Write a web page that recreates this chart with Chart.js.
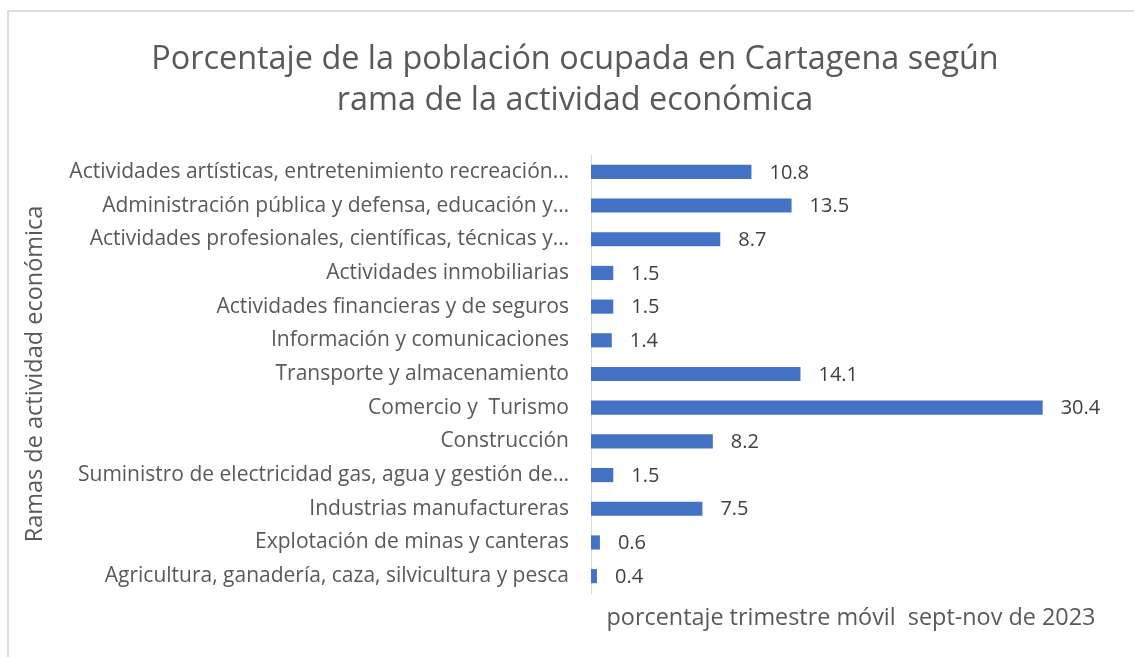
<!DOCTYPE html>
<html>
<head>
<meta charset="utf-8">
<script src="https://cdn.jsdelivr.net/npm/chart.js@4.4.0/dist/chart.umd.min.js"></script>
<style>
  html, body { margin: 0; padding: 0; background: #fff; }
  #frame { position: absolute; left: 0; top: 0; width: 1134px; height: 657px; overflow: hidden; }
  #edge { position: absolute; left: 7px; top: 10px; width: 1300px; height: 800px;
          border-left: 2px solid #dcdcdc; border-top: 2px solid #dcdcdc; }
  #chart { position: absolute; left: 0; top: 0; }
</style>
</head>
<body>
<div id="frame">
  <div id="edge"></div>
  <canvas id="chart" width="1134" height="657"></canvas>
</div>
<script>
// ramas de actividad, de arriba hacia abajo
const ramas = [
  "Actividades artísticas, entretenimiento recreación…",
  "Administración pública y defensa, educación y…",
  "Actividades profesionales, científicas, técnicas y…",
  "Actividades inmobiliarias",
  "Actividades financieras y de seguros",
  "Información y comunicaciones",
  "Transporte y almacenamiento",
  "Comercio y  Turismo",
  "Construcción",
  "Suministro de electricidad gas, agua y gestión de…",
  "Industrias manufactureras",
  "Explotación de minas y canteras",
  "Agricultura, ganadería, caza, silvicultura y pesca"
];
const porcentajes = [10.8, 13.5, 8.7, 1.5, 1.5, 1.4, 14.1, 30.4, 8.2, 1.5, 7.5, 0.6, 0.4];

const tituloLineas = [
  "Porcentaje de la población ocupada en Cartagena según",
  "rama de la actividad económica"
];
const tituloEjeX = "porcentaje trimestre móvil  sept-nov de 2023";
const tituloEjeY = "Ramas de actividad económica";

const FONT = "'Open Sans', 'Noto Sans', sans-serif";
const GRIS = "#595959";

// etiquetas de valor al final de cada barra
const valueLabels = {
  id: "valueLabels",
  afterDatasetsDraw(chart) {
    const ctx = chart.ctx;
    const meta = chart.getDatasetMeta(0);
    ctx.save();
    ctx.font = "20px " + FONT;
    ctx.fillStyle = "#404040";
    ctx.textAlign = "left";
    ctx.textBaseline = "middle";
    meta.data.forEach((bar, i) => {
      ctx.fillText(porcentajes[i].toFixed(1), bar.x + 18, bar.y + 1);
    });
    ctx.restore();
  }
};

const ctx = document.getElementById("chart").getContext("2d");
new Chart(ctx, {
  type: "bar",
  data: {
    labels: ramas,
    datasets: [{
      data: porcentajes,
      backgroundColor: "#4472C4",
      borderWidth: 0,
      categoryPercentage: 1,
      barPercentage: 0.42
    }]
  },
  options: {
    indexAxis: "y",
    responsive: false,
    animation: false,
    layout: { padding: { left: 39, right: 23, top: 0, bottom: 0 } },
    plugins: {
      legend: { display: false },
      tooltip: { enabled: false },
      title: {
        display: true,
        text: tituloLineas,
        color: GRIS,
        font: { family: FONT, size: 32.4, weight: "normal", lineHeight: 1.25 },
        padding: { top: 40, bottom: 34 }
      }
    },
    scales: {
      x: {
        min: 0,
        max: 35,
        ticks: { display: false },
        grid: { display: false },
        border: { display: false },
        title: {
          display: true,
          text: tituloEjeX,
          color: GRIS,
          font: { family: FONT, size: 23.4, lineHeight: 1.2 },
          padding: { top: 0, bottom: 25 }
        },
        afterFit(scale) { scale.height = 64; }
      },
      y: {
        ticks: {
          color: GRIS,
          font: { family: FONT, size: 21 },
          padding: 14,
          autoSkip: false
        },
        grid: { display: false },
        border: { display: true, color: "#D9D9D9", width: 1 },
        title: {
          display: true,
          text: tituloEjeY,
          color: GRIS,
          font: { family: FONT, size: 23.5, lineHeight: 1.2 },
          padding: { top: -18, bottom: 0 }
        },
        afterFit(scale) { scale.width = 552; }
      }
    }
  },
  plugins: [valueLabels]
});
</script>
</body>
</html>
